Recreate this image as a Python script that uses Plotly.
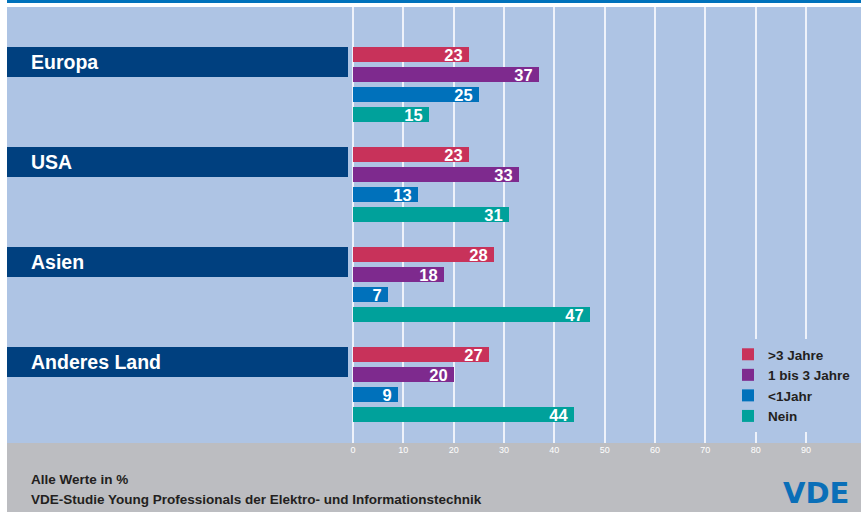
import plotly.graph_objects as go

# data (values in %)
categories = ["Europa", "USA", "Asien", "Anderes Land"]
series_names = [">3 Jahre", "1 bis 3 Jahre", "<1Jahr", "Nein"]
more_than_3 = [23, 23, 28, 27]
one_to_3 = [37, 33, 18, 20]
less_than_1 = [25, 13, 7, 9]
nein = [15, 31, 47, 44]
x_ticks = [0, 10, 20, 30, 40, 50, 60, 70, 80, 90]

series_values = [more_than_3, one_to_3, less_than_1, nein]
series_colors = ["#c8325a", "#7e2a8e", "#0071bb", "#00a19b"]

NAVY = "#00407f"
PANEL = "#aec4e4"
FOOTER = "#bcbdc1"
TOPLINE = "#0072bb"
FONT = "Liberation Sans, Arial, sans-serif"

W, H = 861, 512
ML, MR, MT, MB = 7, 0, 7, 69
PW, PH = W - ML - MR, H - MT - MB

GROUP_STEP = 5  # rows per country block

fig = go.Figure()

# category label boxes on a separate x axis at the left
box_y = [GROUP_STEP * g + 0.375 for g in range(len(categories))]
fig.add_trace(go.Bar(
    x=[1] * len(categories), y=box_y, orientation="h",
    width=1.5, marker=dict(color=NAVY, line=dict(width=0)),
    xaxis="x2", yaxis="y", showlegend=False, hoverinfo="skip",
))
for cat, yy in zip(categories, box_y):
    fig.add_annotation(
        x=0.064, y=yy, xref="x2", yref="y", text=f"<b>{cat}</b>",
        showarrow=False, xanchor="left", yanchor="middle",
        font=dict(family=FONT, size=19.5, color="white"),
    )

for i, (name, vals, col) in enumerate(zip(series_names, series_values, series_colors)):
    ys = [GROUP_STEP * g + i for g in range(len(categories))]
    fig.add_trace(go.Bar(
        x=vals, y=ys, orientation="h", name=name, width=0.75,
        marker=dict(color=col, line=dict(width=0)),
        text=[f"<b>{v}</b>\u2009" for v in vals], textposition="inside",
        insidetextanchor="end", textangle=0, constraintext="none",
        textfont=dict(family=FONT, size=16.5, color="white"),
    ))

x_dom0 = (353 - ML) / PW
x_max = (W - 353) / 5.033

# background panel, footer and top rule
fig.add_shape(type="rect", xref="paper", yref="paper", x0=0, x1=1, y0=0, y1=1,
              fillcolor=PANEL, line_width=0, layer="below")
fig.add_shape(type="rect", xref="paper", yref="paper", x0=0, x1=1,
              y0=-MB / PH, y1=0, fillcolor=FOOTER, line_width=0, layer="below")
fig.add_shape(type="rect", xref="paper", yref="paper", x0=0, x1=1,
              y0=1 + 4 / PH, y1=1 + MT / PH, fillcolor=TOPLINE, line_width=0, layer="below")

fig.add_annotation(
    xref="paper", yref="paper", x=22 / PW, y=-36 / PH, xanchor="left", yanchor="middle",
    text="<b>Alle Werte in %</b>", showarrow=False,
    font=dict(family=FONT, size=13.5, color="#231f20"),
)
fig.add_annotation(
    xref="paper", yref="paper", x=22 / PW, y=-56 / PH, xanchor="left", yanchor="middle",
    text="<b>VDE-Studie Young Professionals der Elektro- und Informationstechnik</b>",
    showarrow=False, font=dict(family=FONT, size=13.5, color="#231f20"),
)
fig.add_annotation(
    xref="paper", yref="paper", x=(850 - ML) / PW, y=-50 / PH, xanchor="right", yanchor="middle",
    text="<b>VDE</b>", showarrow=False, borderpad=0,
    font=dict(family="DejaVu Sans, Arial, sans-serif", size=29, color="#0a6fb8"),
)

fig.update_layout(
    width=W, height=H,
    margin=dict(l=ML, r=MR, t=MT, b=MB),
    paper_bgcolor="white",
    plot_bgcolor="rgba(0,0,0,0)",
    barmode="overlay",
    bargap=0,
    xaxis=dict(
        domain=[x_dom0, 1], range=[0, x_max],
        tickvals=x_ticks, ticks="", showline=False,
        showgrid=True, gridcolor="#eef2fa", gridwidth=1.5,
        zeroline=True, zerolinecolor="#eef2fa", zerolinewidth=1.5,
        tickfont=dict(family=FONT, size=9, color="white"),
        fixedrange=True,
    ),
    xaxis2=dict(
        domain=[0, (348 - ML) / PW], range=[0, 1], anchor="y",
        visible=False, showgrid=False, zeroline=False,
    ),
    yaxis=dict(
        range=[19.425, -2.375], visible=False, showgrid=False, zeroline=False,
    ),
    legend=dict(
        x=(728 - ML) / PW, y=(H - MB - 339) / PH, xanchor="left", yanchor="top",
        bgcolor=PANEL, borderwidth=0, traceorder="normal",
        font=dict(family=FONT, size=13.5, color="#231f20", weight="bold"),
        itemclick=False, itemdoubleclick=False,
    ),
    showlegend=True,
)

# the page body has a default 8px margin; remove it so the chart sits at 0,0
fig.write_html("out.html", config={"displayModeBar": False},
               post_script="document.body.style.margin='0';")
